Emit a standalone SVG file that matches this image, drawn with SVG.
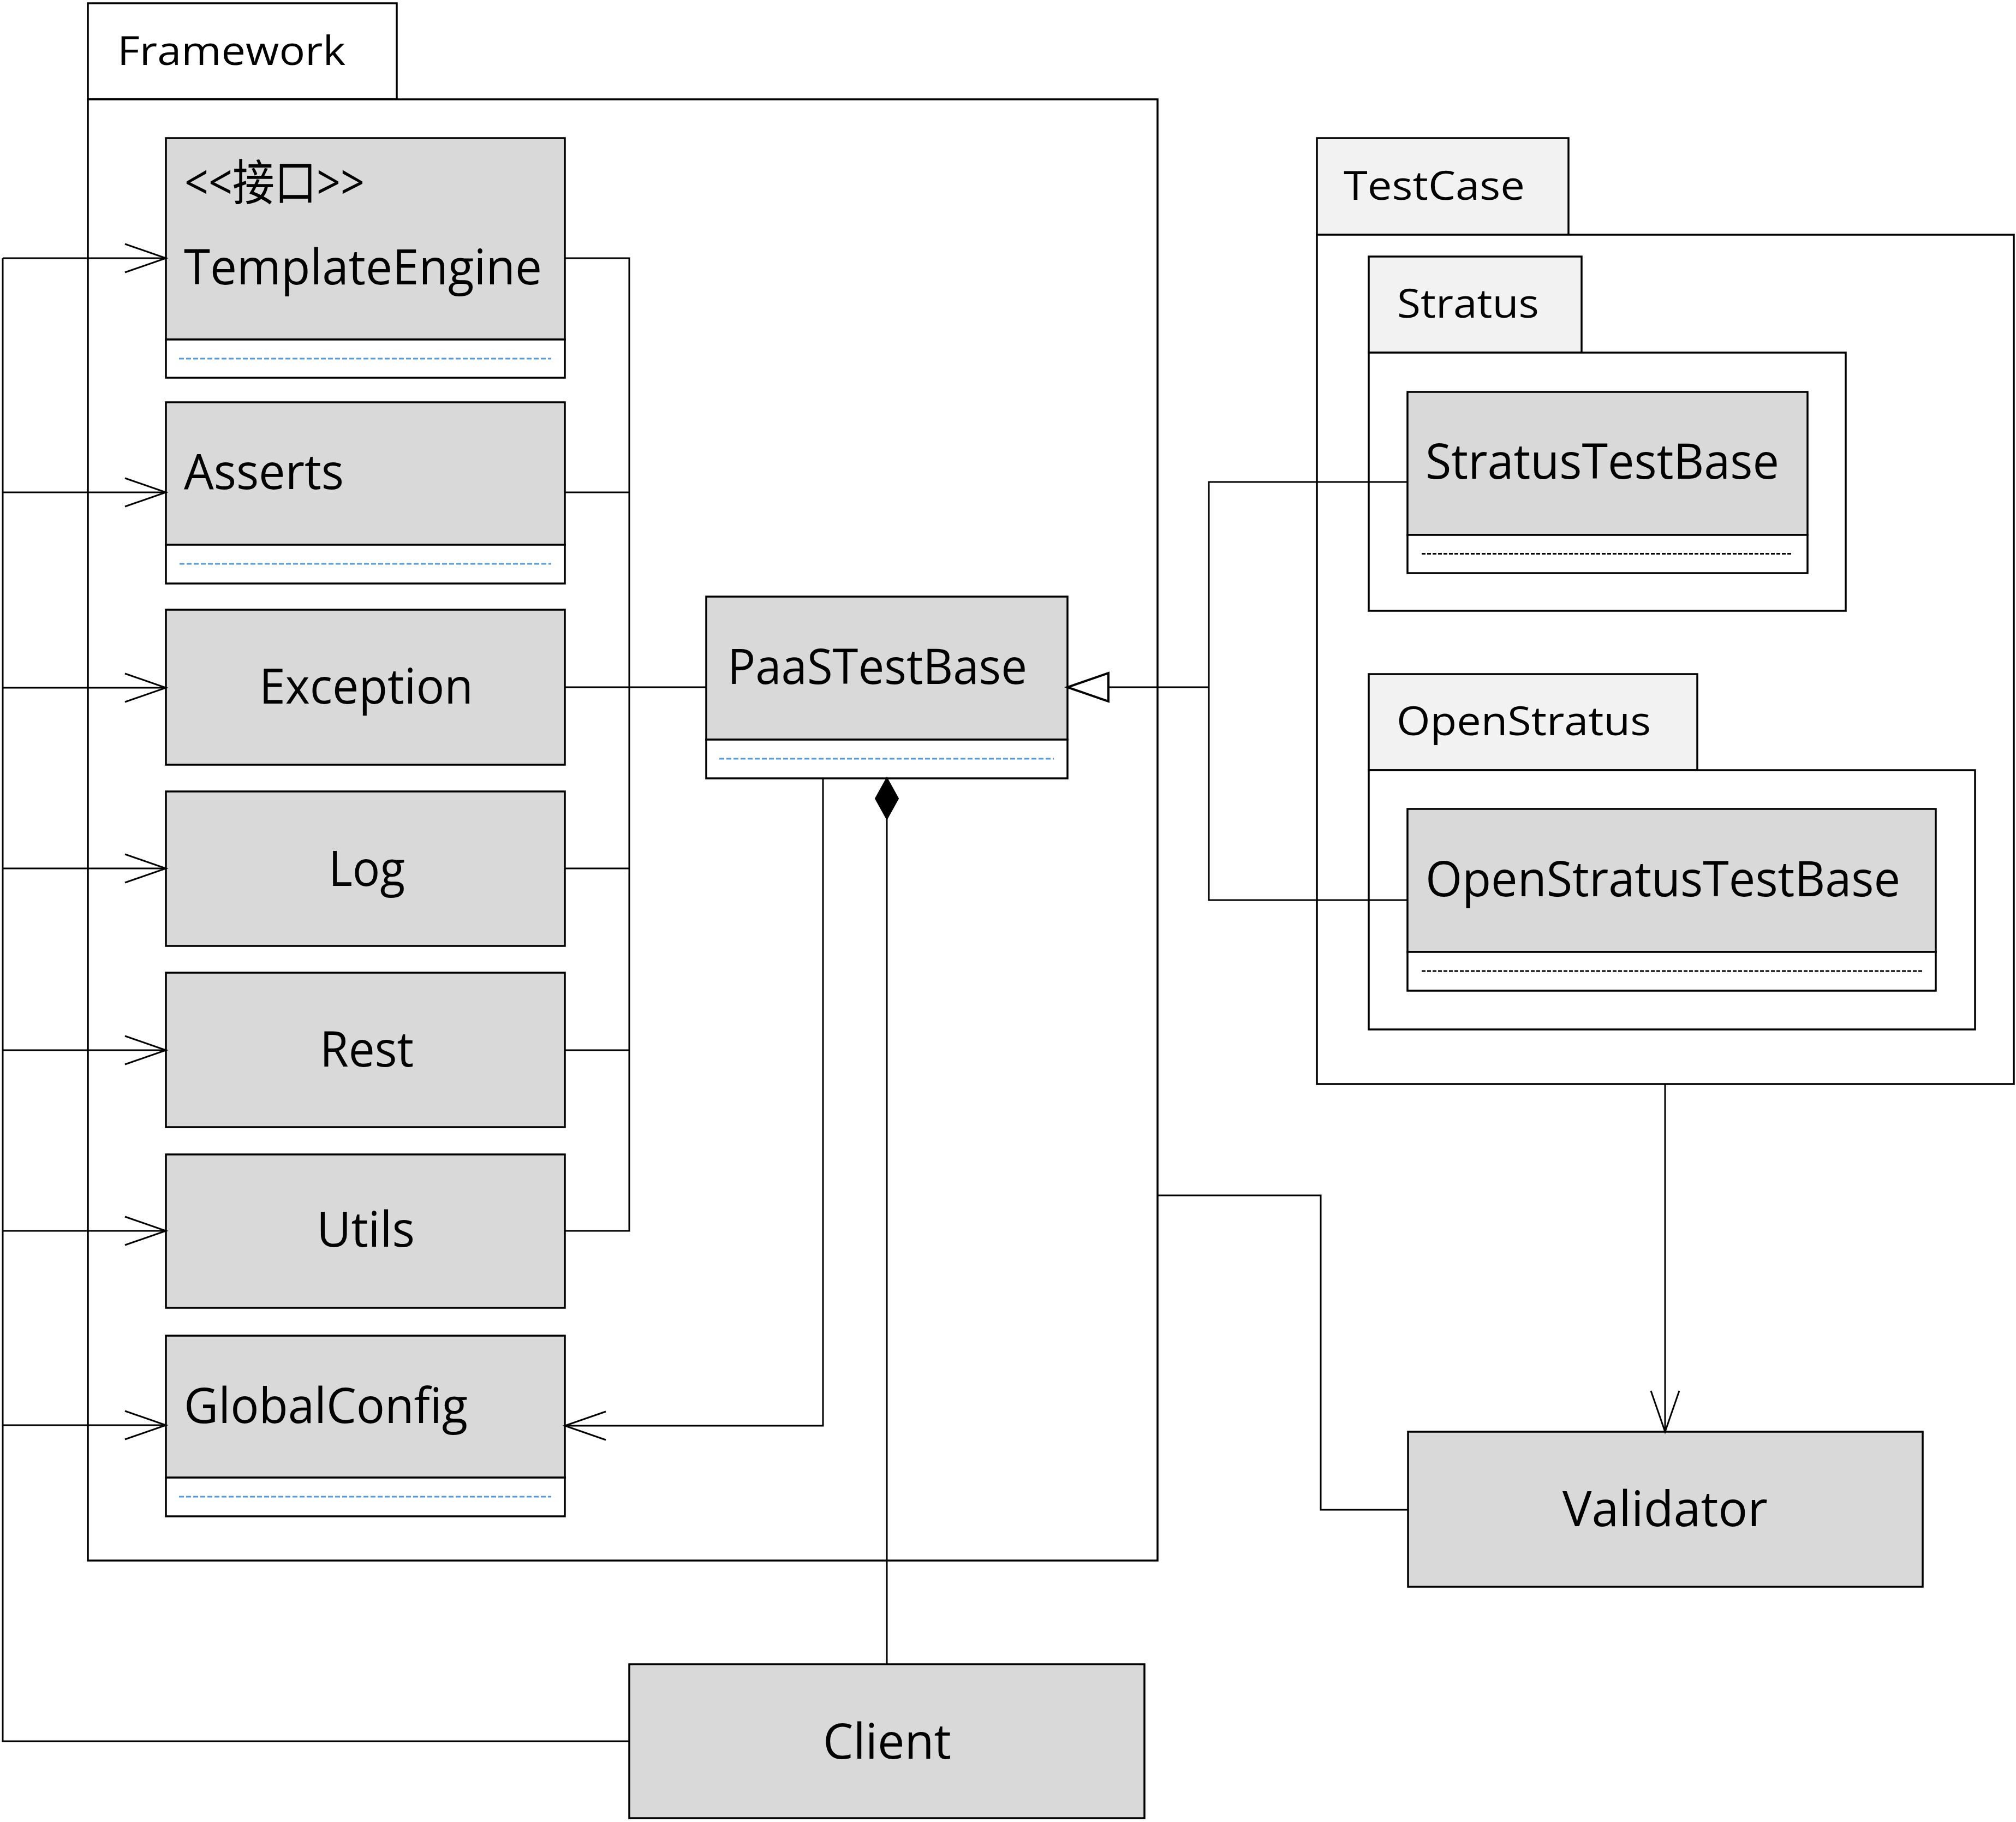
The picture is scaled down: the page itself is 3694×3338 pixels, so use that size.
<svg xmlns="http://www.w3.org/2000/svg" width="3694" height="3338" viewBox="0 0 3694 3338">
<style>
.bg{fill:#fff}
.pkg{fill:#fff;stroke:#000;stroke-width:3.5}
.tab2{fill:#f2f2f2;stroke:#000;stroke-width:3.5}
.cls{fill:#d9d9d9;stroke:#000;stroke-width:3.5}
.cmp{fill:#fff;stroke:#000;stroke-width:3.5}
.dashb{stroke:#5b9bd5;stroke-width:3;stroke-dasharray:9 4;fill:none}
.dashk{stroke:#000;stroke-width:3;stroke-dasharray:7 3;fill:none}
.lbl{font-family:"Open Sans","Noto Sans","Noto Sans CJK SC",sans-serif;font-size:89px;fill:#000}
.pk{font-size:73px}
.conn{fill:none;stroke:#000;stroke-width:3}
</style>
<defs>
<marker id="open" markerUnits="userSpaceOnUse" viewBox="-80 -30 90 60" refX="0" refY="0" markerWidth="90" markerHeight="60" orient="auto">
<path d="M-75,-26 L0,0 L-75,26" fill="none" stroke="#000" stroke-width="3"/>
</marker>
<marker id="tri" markerUnits="userSpaceOnUse" viewBox="-80 -30 90 60" refX="0" refY="0" markerWidth="90" markerHeight="60" orient="auto">
<path d="M0,0 L-75,-26 L-75,26 Z" fill="#fff" stroke="#000" stroke-width="4"/>
</marker>
<marker id="diamond" markerUnits="userSpaceOnUse" viewBox="-5 -25 85 50" refX="0" refY="0" markerWidth="85" markerHeight="50" orient="auto">
<path d="M0,0 L38,-21 L76,0 L38,21 Z" fill="#000" stroke="#000" stroke-width="2"/>
</marker>
</defs>
<rect class="bg" x="0" y="0" width="3694" height="3338"/>

<g id="pkg-framework">
<rect class="pkg" x="161" y="6" width="566" height="176"/>
<rect class="pkg" x="161" y="182" width="1960" height="2677"/>
<text class="lbl pk" x="215" y="118.5" textLength="418" lengthAdjust="spacingAndGlyphs">Framework</text>
</g>

<g id="pkg-testcase">
<rect class="tab2" x="2413" y="253" width="461" height="177"/>
<rect class="pkg" x="2413" y="430" width="1277" height="1556"/>
<text class="lbl pk" x="2462" y="366" textLength="332" lengthAdjust="spacingAndGlyphs">TestCase</text>
</g>

<g id="pkg-stratus">
<rect class="tab2" x="2508" y="470" width="390" height="176"/>
<rect class="pkg" x="2508" y="646" width="874" height="473"/>
<text class="lbl pk" x="2560" y="582" textLength="260" lengthAdjust="spacingAndGlyphs">Stratus</text>
</g>

<g id="pkg-openstratus">
<rect class="tab2" x="2508" y="1235" width="602" height="176"/>
<rect class="pkg" x="2508" y="1411" width="1111" height="475"/>
<text class="lbl pk" x="2559" y="1346.5" textLength="466" lengthAdjust="spacingAndGlyphs">OpenStratus</text>
</g>

<g id="cls-templateengine">
<rect class="cls" x="304" y="253" width="731" height="369"/>
<rect class="cmp" x="304" y="622" width="731" height="70"/>
<line class="dashb" x1="328" y1="657" x2="1010" y2="657"/>
<text class="lbl" x="338" y="366" font-size="70" textLength="330" lengthAdjust="spacingAndGlyphs">&lt;&lt;接口&gt;&gt;</text>
<text class="lbl" x="337" y="521" textLength="656" lengthAdjust="spacingAndGlyphs">TemplateEngine</text>
</g>

<g id="cls-asserts">
<rect class="cls" x="304" y="737" width="731" height="261"/>
<rect class="cmp" x="304" y="998" width="731" height="71"/>
<line class="dashb" x1="329" y1="1033" x2="1010" y2="1033"/>
<text class="lbl" x="337" y="896" textLength="293" lengthAdjust="spacingAndGlyphs">Asserts</text>
</g>

<g id="cls-exception">
<rect class="cls" x="304" y="1117" width="731" height="284"/>
<text class="lbl" x="475" y="1289" textLength="392" lengthAdjust="spacingAndGlyphs">Exception</text>
</g>

<g id="cls-log">
<rect class="cls" x="304" y="1450" width="731" height="283"/>
<text class="lbl" x="602" y="1623" textLength="140" lengthAdjust="spacingAndGlyphs">Log</text>
</g>

<g id="cls-rest">
<rect class="cls" x="304" y="1782" width="731" height="283"/>
<text class="lbl" x="586" y="1954" textLength="172" lengthAdjust="spacingAndGlyphs">Rest</text>
</g>

<g id="cls-utils">
<rect class="cls" x="304" y="2115" width="731" height="281"/>
<text class="lbl" x="580" y="2284" textLength="180" lengthAdjust="spacingAndGlyphs">Utils</text>
</g>

<g id="cls-globalconfig">
<rect class="cls" x="304" y="2447" width="731" height="260"/>
<rect class="cmp" x="304" y="2707" width="731" height="71"/>
<line class="dashb" x1="328" y1="2742" x2="1010" y2="2742"/>
<text class="lbl" x="337" y="2606.5" textLength="520" lengthAdjust="spacingAndGlyphs">GlobalConfig</text>
</g>

<g id="cls-paastestbase">
<rect class="cls" x="1294" y="1093" width="662" height="262"/>
<rect class="cmp" x="1294" y="1355" width="662" height="71"/>
<line class="dashb" x1="1318" y1="1390" x2="1931" y2="1390"/>
<text class="lbl" x="1333" y="1253" textLength="549" lengthAdjust="spacingAndGlyphs">PaaSTestBase</text>
</g>

<g id="cls-stratustestbase">
<rect class="cls" x="2579" y="718" width="733" height="262"/>
<rect class="cmp" x="2579" y="980" width="733" height="70"/>
<line class="dashk" x1="2605" y1="1014.5" x2="3285" y2="1014.5"/>
<text class="lbl" x="2612" y="877" textLength="648" lengthAdjust="spacingAndGlyphs">StratusTestBase</text>
</g>

<g id="cls-openstratustestbase">
<rect class="cls" x="2579" y="1482" width="968" height="262"/>
<rect class="cmp" x="2579" y="1744" width="968" height="71"/>
<line class="dashk" x1="2605" y1="1779" x2="3524" y2="1779"/>
<text class="lbl" x="2612" y="1642" textLength="870" lengthAdjust="spacingAndGlyphs">OpenStratusTestBase</text>
</g>

<g id="cls-validator">
<rect class="cls" x="2580" y="2623" width="943" height="284"/>
<text class="lbl" x="2863" y="2796" textLength="376" lengthAdjust="spacingAndGlyphs">Validator</text>
</g>

<g id="cls-client">
<rect class="cls" x="1153" y="3049" width="944" height="282"/>
<text class="lbl" x="1508" y="3222" textLength="235" lengthAdjust="spacingAndGlyphs">Client</text>
</g>

<g id="connectors">
<path class="conn" d="M1153,3190 H5 V473"/>
<path class="conn" d="M5,473 H304" marker-end="url(#open)"/>
<path class="conn" d="M5,902 H304" marker-end="url(#open)"/>
<path class="conn" d="M5,1260 H304" marker-end="url(#open)"/>
<path class="conn" d="M5,1591 H304" marker-end="url(#open)"/>
<path class="conn" d="M5,1924 H304" marker-end="url(#open)"/>
<path class="conn" d="M5,2255 H304" marker-end="url(#open)"/>
<path class="conn" d="M5,2611 H304" marker-end="url(#open)"/>
<path class="conn" d="M1035,473 H1153 V2255 H1035"/>
<path class="conn" d="M1035,902 H1153"/>
<path class="conn" d="M1035,1591 H1153"/>
<path class="conn" d="M1035,1924 H1153"/>
<path class="conn" d="M1035,1259 H1294"/>
<path class="conn" d="M1508,1426 V2612 H1035" marker-end="url(#open)"/>
<path class="conn" d="M1625,1425 V3049" marker-start="url(#diamond)"/>
<path class="conn" d="M2579,883 H2215 V1649 H2579"/>
<path class="conn" d="M2215,1259 H1956" marker-end="url(#tri)"/>
<path class="conn" d="M3051,1986 V2623" marker-end="url(#open)"/>
<path class="conn" d="M2121,2190 H2420 V2766 H2580"/>
</g>
</svg>
